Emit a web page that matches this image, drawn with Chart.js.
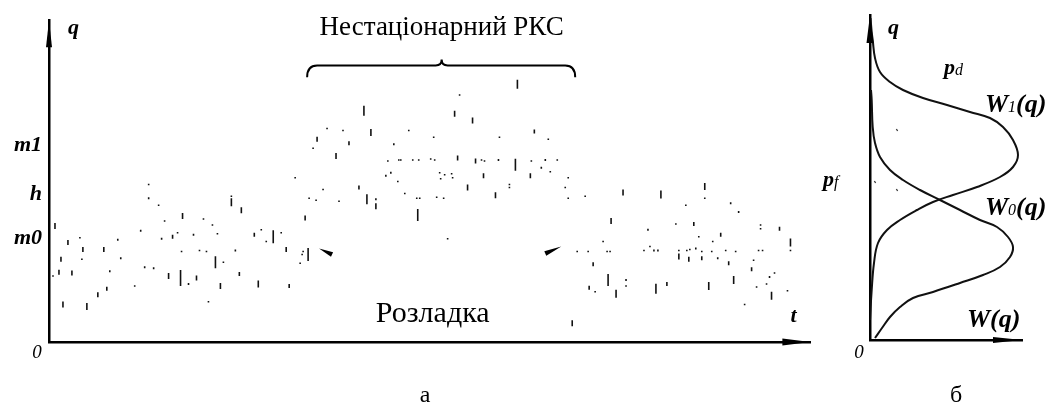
<!DOCTYPE html>
<html>
<head>
<meta charset="utf-8">
<script src="https://cdn.jsdelivr.net/npm/chart.js@4"></script>
<style>
  html, body { margin: 0; padding: 0; background: #fff; }
  #marco { position: relative; width: 1058px; height: 406px; overflow: hidden; }
  #grafA { position: absolute; left: 0; top: 0; }
  #grafB { position: absolute; left: 820px; top: 0; }
</style>
</head>
<body>
<div id="marco">
  <canvas id="grafA" width="820" height="406" style="width:820px;height:406px"></canvas>
  <canvas id="grafB" width="238" height="406" style="width:238px;height:406px"></canvas>
</div>
<script>
// Panel a: realizacion de q(t), cada marca es un trazo vertical corto
let tVals = [
  100,100,110,134,6,116,92,31,69,113,124,129,19,34,55,133,12,33,72,61,96,105,4,10,23,120,132,140,86,58,49,14,38,
  247,183,183,193,261,268,257,155,164,145,169,206,213,225,233,218,151,158,187,238,255,260,167,175,252,148,191,172,210,241,160,254,
  275,316,279,295,323,361,386,269,301,346,265,288,340,351,353,365,371,383,387,338,343,350,392,397,393,311,357,291,319,328,328,369,372,389,396,370,
  470,412,407,425,452,487,501,410,428,434,437,451,468,484,498,510,494,503,404,405,436,483,521,420,462,462,518,448,521,538,400,
  639,564,629,601,556,603,530,541,560,563,597,607,611,632,632,640,546,561,579,579,620,609,542,548,569,525,
  684,692,647,714,714,733,652,674,666,744,744,643,649,655,665,679,689,712,716,642,655,671,682,707,705,728,723,687,720,710,662,741,725,698,
  576,614,658,658
];
let qVals = [
  160,146,139,128,118,123,113,106,104,105,107,111,101,94,94,92,84,84,85,72,76,75,67,71,70,67,65,59,57,54,48,38,36,
  167,142,148,134,146,144,126,125,119,109,110,109,114,107,111,102,93,92,93,94,92,89,81,81,80,65,69,57,59,57,41,89,
  155,235,217,215,213,215,208,206,202,201,197,189,184,185,185,185,185,186,185,169,172,163,172,170,166,157,151,143,145,145,138,146,146,147,146,129,
  262,251,232,225,208,214,206,187,184,185,184,185,180,184,185,185,177,173,171,167,169,169,167,157,160,157,157,149,146,148,105,
  139,123,120,114,102,97,92,92,92,92,93,93,93,93,87,93,79,63,63,57,59,54,55,51,49,19,
  141,132,120,119,115,115,107,109,102,101,93,94,95,92,92,93,92,93,93,84,85,85,80,83,74,70,66,63,59,56,57,52,47,38,
  152,150,158,146
];
let dashLens = [
  1.5,2,1.5,6,6,1.5,2,1.5,2,2,4,1.5,5,5,5,1.5,5,1.5,2,2,2,2,1.5,5,5,6,16,2,1.5,4,5,6,7,
  1.5,8,1.5,6,1.5,1.5,5,1.5,1.5,2,1.5,4,1.5,13,1.5,1.5,1.5,1.5,2,5,1.5,13,12,1.5,1.5,5,4,6,7,4,1.5,1.5,
  1.5,10,1.5,1.5,7,1.5,1.5,5,4,2,1.5,6,1.5,1.5,1.5,1.5,1.5,1.5,1.5,2,2,1.5,1.5,1.5,1.5,4,1.5,1.5,10,2,6,1.5,1.5,1.5,1.5,12,
  9,1.5,6,6,1.5,4,1.5,5,5,1.5,1.5,2,12,1.5,2,1.5,2,1.5,1.5,1.5,5,5,1.5,6,1.5,1.5,1.5,6,1.5,1.5,1.5,
  1.5,6,1.5,2,1.5,1.5,1.5,1.5,1.5,1.5,1.5,2,2,1.5,6,1.5,4,12,2,1.5,4,10,4,1.5,8,6,
  2,2,4,1.5,1.5,4,1.5,4,1.5,8,1.5,1.5,2,1.5,1.5,1.5,1.5,1.5,1.5,5,4,2,4,1.5,4,1.5,2,8,1.5,1.5,8,1.5,8,1.5,
  6,8,7,1.5
];

// marcas del eje q en el panel a
let qTickVals = [105, 150, 200];
let qTickLabels = ['m0', 'h', 'm1'];

// Panel b: densidades W1(q) y W0(q)
let w1Q = [322, 308, 300, 282, 268, 258, 250, 242, 235, 228, 222, 213, 200, 185, 173, 163, 153, 145, 138, 130, 120, 110, 97, 77, 50, 20];
let w1W = [0.5, 1.7, 2.7, 5, 10, 20, 33, 53, 77, 100, 120, 133, 143, 148, 143, 130, 107, 83, 63, 47, 30, 17, 8, 4, 1.7, 0];
let w0Q = [250, 240, 213, 197, 183, 170, 160, 150, 140, 130, 120, 113, 103, 93, 83, 73, 65, 57, 48, 42, 33, 23, 12, 2];
let w0W = [1, 1.7, 2.7, 5, 10, 20, 33, 50, 70, 90, 110, 127, 138, 143, 140, 130, 113, 90, 63, 43, 30, 20, 12, 5];
// puntitos sueltos en la zona pf
let sueltosW = [27, 5, 27];
let sueltosQ = [210, 158, 150];

const serif = '"Liberation Serif", "Times New Roman", serif';
const negrita = 'bold italic 22px ' + serif;
const negritaW = 'bold italic 26px ' + serif;

function punta(ctx, xt, yt, xb, yb, ancho) {
  // punta de flecha rellena: vertice en (xt,yt), base centrada en (xb,yb)
  let dx = xb - xt, dy = yb - yt;
  let l = Math.sqrt(dx * dx + dy * dy);
  let nx = -dy / l * ancho, ny = dx / l * ancho;
  ctx.beginPath();
  ctx.moveTo(xt, yt);
  ctx.lineTo(xb + nx, yb + ny);
  ctx.lineTo(xb - nx, yb - ny);
  ctx.closePath();
  ctx.fill();
}

function texto(ctx, x, y, partes, align) {
  // dibuja trozos con distinto tipo de letra seguidos
  let total = 0;
  partes.forEach(p => { ctx.font = p[1]; total += ctx.measureText(p[0]).width; });
  let cx = align === 'center' ? x - total / 2 : x;
  ctx.textAlign = 'left';
  ctx.textBaseline = 'alphabetic';
  partes.forEach(p => {
    ctx.font = p[1];
    ctx.fillText(p[0], cx, y + (p[2] || 0));
    cx += ctx.measureText(p[0]).width;
  });
}

const anotacionesA = {
  id: 'anotacionesA',
  afterDraw(chart) {
    const ctx = chart.ctx;
    const xs = chart.scales.x, ys = chart.scales.y;
    const X = v => xs.getPixelForValue(v), Y = v => ys.getPixelForValue(v);
    ctx.save();
    ctx.fillStyle = '#000';
    ctx.strokeStyle = '#000';

    // flechas de los ejes
    punta(ctx, X(0), ys.top, X(0), ys.top + 27, 3);
    punta(ctx, xs.right, Y(0), xs.right - 28, Y(0), 3.5);

    // llave sobre el tramo no estacionario
    const b0 = X(259), b1 = X(528), bm = X(394);
    const yb = Y(281), ye = Y(269), yp = Y(287);
    ctx.lineWidth = 2;
    ctx.beginPath();
    ctx.moveTo(b0, ye);
    ctx.quadraticCurveTo(b0, yb, b0 + 10, yb);
    ctx.lineTo(bm - 6, yb);
    ctx.quadraticCurveTo(bm, yb, bm, yp);
    ctx.quadraticCurveTo(bm, yb, bm + 6, yb);
    ctx.lineTo(b1 - 10, yb);
    ctx.quadraticCurveTo(b1, yb, b1, ye);
    ctx.stroke();

    // puntas que senalan la rozladka
    punta(ctx, X(271), Y(95), X(284), Y(89), 2.5);
    punta(ctx, X(514), Y(97), X(498), Y(90), 2.5);

    texto(ctx, X(394), 35, [['Нестаціонарний РКС', '27px ' + serif]], 'center');
    texto(ctx, X(385), Y(20), [['Розладка', '30px ' + serif]], 'center');

    texto(ctx, 68, 34, [['q', negrita]]);
    texto(ctx, X(747), Y(20), [['t', negrita]], 'center');
    texto(ctx, 37, 358, [['0', 'italic 19px ' + serif]], 'center');
    texto(ctx, 425, 402, [['а', '24px ' + serif]], 'center');
    ctx.restore();
  }
};

const anotacionesB = {
  id: 'anotacionesB',
  afterDraw(chart) {
    const ctx = chart.ctx;
    const xs = chart.scales.x, ys = chart.scales.y;
    const X = v => xs.getPixelForValue(v), Y = v => ys.getPixelForValue(v);
    ctx.save();
    ctx.fillStyle = '#000';
    punta(ctx, X(0), ys.top, X(0), ys.top + 28, 3.5);
    punta(ctx, xs.right, Y(0), xs.right - 29, Y(0), 3);

    const sub = 'italic 16px ' + serif;
    texto(ctx, 68, 34, [['q', negrita]]);
    texto(ctx, 124, 74, [['p', negrita], ['d', sub, 1]]);
    texto(ctx, 165, 112, [['W', negritaW], ['1', sub, 0], ['(q)', negritaW]]);
    texto(ctx, 3, 186, [['p', negrita], ['f', sub, 1]]);
    texto(ctx, 165, 215, [['W', negritaW], ['0', sub, 0], ['(q)', negritaW]]);
    texto(ctx, 147, 327, [['W(q)', negritaW]]);
    texto(ctx, 39, 358, [['0', 'italic 19px ' + serif]], 'center');
    texto(ctx, 136, 402, [['б', '24px ' + serif]], 'center');
    ctx.restore();
  }
};

const ejeBorde = { display: true, color: '#000', width: 2.5 };

let grafA = new Chart(document.getElementById('grafA'), {
  type: 'scatter',
  data: {
    datasets: [{
      data: tVals.map((t, i) => ({ x: t, y: qVals[i] })),
      pointStyle: 'line',
      pointRotation: 90,
      pointRadius: c => dashLens[c.dataIndex] / 2,
      pointBorderColor: '#111',
      pointBorderWidth: 1.6,
      pointHoverRadius: 0
    }]
  },
  options: {
    responsive: false,
    animation: false,
    layout: { padding: { top: 15, right: 7, bottom: 64, left: 0 } },
    plugins: { legend: { display: false }, tooltip: { enabled: false } },
    scales: {
      x: {
        type: 'linear', min: 0, max: 764,
        grid: { display: false },
        border: ejeBorde,
        ticks: { display: false },
        afterFit: s => { s.height = 0; }
      },
      y: {
        min: 0, max: 327,
        grid: { display: false, drawTicks: false },
        border: ejeBorde,
        afterBuildTicks: s => { s.ticks = qTickVals.map(v => ({ value: v })); },
        ticks: {
          autoSkip: false,
          padding: 7,
          color: '#000',
          font: { family: serif, size: 22, style: 'italic', weight: 'bold' },
          callback: (v, i) => qTickLabels[i]
        },
        afterFit: s => { s.width = 49; }
      }
    }
  },
  plugins: [anotacionesA]
});

let grafB = new Chart(document.getElementById('grafB'), {
  type: 'scatter',
  data: {
    datasets: [
      {
        label: 'W1(q)',
        data: w1Q.map((q, i) => ({ x: w1W[i], y: q })),
        showLine: true, tension: 0.4,
        borderColor: '#111', borderWidth: 2, pointRadius: 0
      },
      {
        label: 'W0(q)',
        data: w0Q.map((q, i) => ({ x: w0W[i], y: q })),
        showLine: true, tension: 0.4,
        borderColor: '#111', borderWidth: 2, pointRadius: 0
      },
      {
        label: 'puntos',
        data: sueltosQ.map((q, i) => ({ x: sueltosW[i], y: q })),
        pointStyle: 'line', pointRotation: 60, pointRadius: 1.2,
        pointBorderColor: '#333', pointBorderWidth: 1.3
      }
    ]
  },
  options: {
    responsive: false,
    animation: false,
    layout: { padding: { top: 15, right: 36, bottom: 66, left: 0 } },
    plugins: { legend: { display: false }, tooltip: { enabled: false } },
    scales: {
      x: {
        type: 'linear', min: 0, max: 152,
        grid: { display: false },
        border: ejeBorde,
        ticks: { display: false },
        afterFit: s => { s.height = 0; }
      },
      y: {
        min: 0, max: 325,
        grid: { display: false },
        border: ejeBorde,
        ticks: { display: false },
        afterFit: s => { s.width = 50; }
      }
    }
  },
  plugins: [anotacionesB]
});
</script>
</body>
</html>
